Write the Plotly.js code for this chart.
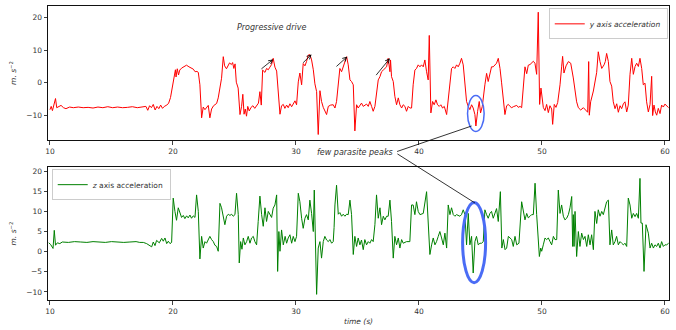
<!DOCTYPE html>
<html>
<head>
<meta charset="utf-8">
<script src="https://cdn.plot.ly/plotly-3.0.1.min.js"></script>
<style>
  html, body { margin: 0; padding: 0; background: #fff; }
  #chart { width: 676px; height: 330px; }
</style>
</head>
<body>
<div id="chart"></div>
<script>
// y axis acceleration (m.s^-2) against time (s)
const yTime = [
  10.0,10.1,10.2,10.3,10.45,10.55,10.7,10.9,11.1,11.3,11.6,11.9,12.3,12.7,13.1,13.5,13.9,14.3,14.7,15.1,
  15.5,15.9,16.3,16.7,17.1,17.5,17.8,17.95,18.1,18.25,18.4,18.55,18.7,18.85,19.0,19.15,19.3,19.5,19.65,19.8,
  19.95,20.1,20.2,20.25,20.35,20.45,20.55,20.7,20.9,21.1,21.3,21.5,21.65,21.8,21.95,22.06,22.19,22.33,22.46,22.6,
  22.73,22.87,23.0,23.14,23.3,23.45,23.55,23.68,23.82,23.95,24.09,24.2,24.35,24.5,24.6,24.75,24.85,24.95,25.05,25.15,
  25.3,25.45,25.58,25.68,25.78,25.88,25.98,26.08,26.2,26.35,26.5,26.65,26.8,26.95,27.07,27.18,27.29,27.48,27.61,27.75,
  27.88,28.02,28.15,28.29,28.43,28.56,28.7,28.83,28.97,29.1,29.24,29.37,29.51,29.65,29.78,29.92,30.05,30.19,30.32,30.46,
  30.59,30.73,30.86,31.0,31.14,31.27,31.41,31.54,31.68,31.81,31.95,32.08,32.22,32.35,32.49,32.63,32.82,33.03,33.17,33.3,
  33.44,33.57,33.71,33.84,33.98,34.12,34.25,34.39,34.52,34.66,34.79,34.93,35.06,35.2,35.33,35.47,35.61,35.74,35.88,36.01,
  36.15,36.28,36.42,36.55,36.69,36.83,36.96,37.1,37.23,37.37,37.5,37.64,37.69,37.77,37.91,38.04,38.18,38.32,38.45,38.59,
  38.72,38.86,38.99,39.13,39.26,39.4,39.53,39.67,39.8,39.94,40.08,40.21,40.35,40.48,40.62,40.75,40.84,40.89,40.97,41.11,
  41.24,41.38,41.51,41.65,41.78,41.92,42.06,42.25,42.38,42.52,42.65,42.79,42.92,43.06,43.19,43.33,43.46,43.6,43.74,43.87,
  44.01,44.14,44.28,44.41,44.55,44.63,44.77,44.9,45.01,45.15,45.36,45.5,45.63,45.77,45.9,46.04,46.17,46.31,46.45,46.59,
  46.72,46.85,46.99,47.13,47.27,47.4,47.54,47.67,47.81,47.95,48.08,48.22,48.35,48.49,48.62,48.76,48.89,49.03,49.16,49.3,
  49.43,49.57,49.7,49.81,49.92,50.03,50.11,50.25,50.38,50.52,50.65,50.79,50.87,51.0,51.14,51.28,51.47,51.6,51.68,51.79,
  51.96,52.15,52.34,52.55,52.69,52.82,52.96,53.15,53.37,53.58,53.72,53.8,53.85,53.96,54.18,54.45,54.58,54.72,54.86,55.05,
  55.15,55.26,55.4,55.53,55.67,55.8,55.94,56.08,56.21,56.35,56.48,56.62,56.75,56.89,57.02,57.16,57.3,57.43,57.57,57.7,
  57.84,57.97,58.11,58.24,58.38,58.51,58.65,58.79,58.92,59.0,59.11,59.22,59.33,59.46,59.6,59.73,59.87,60.0,60.14,60.3
];
const yAccel = [
  -8.2,-7.2,-8.5,-7.0,-4.8,-7.6,-7.2,-6.9,-7.6,-7.9,-7.4,-7.6,-7.4,-7.6,-7.5,-7.7,-7.4,-7.6,-7.3,-7.6,
  -7.4,-7.6,-7.5,-7.3,-7.6,-7.5,-7.2,-8.4,-7.0,-7.6,-6.6,-8.3,-7.2,-7.9,-6.8,-7.8,-7.2,-6.8,-6.2,-4.5,
  -1.5,2.5,4.0,1.8,4.3,2.4,3.9,4.5,4.9,5.4,4.9,4.6,4.2,3.4,3.5,3.2,-0.6,-10.7,-7.4,-8.2,
  -7.6,-6.9,-10.7,-8.0,-7.0,-6.7,-6.3,-4.6,-1.5,1.4,8.0,5.2,4.3,5.2,6.1,5.6,6.2,4.4,5.8,0.2,
  -1.6,-9.7,-7.2,-3.5,-9.6,-8.0,-10.2,-7.2,-8.6,-7.5,-7.0,-7.8,-6.8,-6.2,-2.7,-6.8,3.9,3.2,4.4,4.0,
  4.8,5.6,7.5,4.8,3.6,-2.7,-9.6,-7.0,-6.6,-7.8,-6.8,-7.6,-6.4,-7.3,-6.2,-5.5,-6.7,0.3,3.0,-0.6,
  5.9,5.2,6.5,8.5,8.6,7.0,4.0,-0.3,-2.7,-15.8,-2.4,-5.7,-7.5,-8.7,-9.7,-7.2,-6.8,-6.7,-7.7,-5.7,
  -0.1,4.4,3.4,4.9,6.0,8.0,5.5,0.9,0.4,-0.6,-14.7,-6.7,-7.7,-6.7,-6.2,-7.2,-6.7,-6.5,-7.2,-5.7,
  -7.2,-8.7,-7.2,-2.6,0.9,1.9,3.4,3.9,4.4,4.9,7.5,3.4,7.0,1.9,0.4,-4.1,-6.7,-4.6,-6.7,-7.7,
  -6.7,-7.2,-8.7,-7.2,-7.7,-7.7,-0.6,3.9,4.4,5.5,4.9,5.5,4.9,7.0,3.4,0.9,14.5,0.4,-9.2,-5.7,
  -6.7,-5.2,-6.7,-7.2,-6.7,-7.7,-7.2,-9.7,-5.2,-0.6,4.4,4.9,4.4,5.5,4.9,6.0,7.5,5.5,-0.6,-5.7,
  -7.2,-8.2,-6.7,-7.7,-9.7,-13.2,-8.7,-5.7,-9.2,-7.2,-0.6,2.9,0.4,3.4,4.9,4.9,5.5,6.0,7.5,4.4,
  0.0,-5.5,-9.7,-7.0,-6.6,-7.2,-7.6,-7.3,-7.0,-6.9,-7.5,-7.2,-7.6,-1.5,4.9,2.8,5.4,5.6,6.2,6.6,
  6.0,2.6,21.6,-6.6,-1.6,-6.0,-7.5,-8.5,-6.6,-9.1,-7.0,-8.0,-12.7,-6.6,-7.5,-6.0,-0.6,4.9,8.1,3.0,
  5.2,6.5,6.0,1.5,-2.5,-5.8,-7.6,-8.3,-7.6,-8.5,-9.0,6.5,-9.9,-5.8,-2.5,3.2,9.5,6.5,4.4,5.5,
  6.5,9.0,6.5,0.4,-1.0,-5.8,-7.9,-6.4,-9.0,-7.0,-7.9,-6.4,-5.8,-8.9,-6.8,2.6,7.5,2.6,5.0,6.0,
  5.0,7.5,4.4,-0.6,-0.1,-5.8,-8.9,-6.6,2.0,-10.0,-6.8,-8.9,-9.9,-7.8,-9.4,-6.8,-7.4,-6.5,-7.0,-7.6
];

// z axis acceleration (m.s^-2) against time (s)
const zTime = [
  9.9,10.05,10.25,10.35,10.45,10.6,10.8,11.0,11.5,12.0,12.5,13.0,13.5,14.0,14.5,15.0,15.5,16.0,16.5,17.0,
  17.3,17.59,17.86,18.13,18.27,18.4,18.54,18.67,18.89,19.08,19.21,19.35,19.49,19.62,19.76,19.89,20.02,20.16,20.29,20.43,
  20.57,20.7,20.84,20.97,21.11,21.24,21.38,21.51,21.65,21.79,21.92,22.06,22.19,22.33,22.46,22.6,22.73,22.87,23.0,23.14,
  23.28,23.41,23.55,23.68,23.82,23.95,24.09,24.22,24.36,24.5,24.63,24.77,24.9,25.04,25.17,25.31,25.39,25.5,25.61,25.72,
  25.85,25.99,26.12,26.26,26.39,26.53,26.66,26.8,26.93,27.07,27.21,27.34,27.48,27.61,27.75,27.88,28.02,28.15,28.29,28.43,
  28.51,28.61,28.7,28.83,28.97,29.12,29.24,29.37,29.51,29.65,29.78,29.92,30.05,30.19,30.32,30.46,30.59,30.73,30.86,31.0,
  31.13,31.27,31.41,31.49,31.57,31.68,31.81,31.95,32.08,32.22,32.35,32.49,32.63,32.76,32.9,33.03,33.1,33.17,33.3,33.44,
  33.57,33.71,33.84,33.98,34.12,34.25,34.39,34.52,34.66,34.79,34.93,35.06,35.2,35.33,35.47,35.6,35.74,35.88,36.01,36.15,
  36.28,36.42,36.55,36.69,36.83,36.96,37.1,37.23,37.37,37.5,37.64,37.77,37.91,38.04,38.18,38.32,38.45,38.59,38.72,38.99,
  39.26,39.4,39.53,39.67,39.8,39.94,40.08,40.35,40.62,40.75,40.84,40.89,41.03,41.16,41.3,41.43,41.57,41.7,41.84,41.98,
  42.11,42.25,42.38,42.52,42.65,42.79,42.92,43.06,43.33,43.46,43.6,43.74,43.87,44.01,44.14,44.28,44.41,44.55,44.68,44.82,
  44.96,45.09,45.23,45.36,45.5,45.63,45.77,45.9,46.04,46.17,46.31,46.45,46.52,46.62,46.74,46.86,47.0,47.13,47.27,47.4,
  47.54,47.67,47.81,47.95,48.13,48.35,48.49,48.62,48.76,48.89,49.03,49.16,49.3,49.44,49.57,49.79,49.9,49.98,50.11,50.25,
  50.38,50.52,50.66,50.79,50.93,51.06,51.2,51.33,51.47,51.6,51.74,51.87,52.01,52.15,52.28,52.42,52.5,52.55,52.61,52.69,
  52.82,52.96,53.09,53.23,53.37,53.5,53.64,53.77,53.91,54.04,54.18,54.31,54.45,54.58,54.72,54.86,54.99,55.13,55.26,55.4,
  55.53,55.67,55.8,55.94,56.07,56.21,56.35,56.48,56.62,56.75,56.89,57.02,57.16,57.3,57.43,57.57,57.7,57.84,57.97,58.05,
  58.16,58.3,58.46,58.65,58.79,58.92,59.06,59.19,59.33,59.46,59.6,59.73,59.87,60.0,60.14,60.3
];
const zAccel = [
  2.2,1.8,0.8,5.3,1.6,2.2,2.0,2.4,2.3,2.5,2.4,2.3,2.5,2.4,2.3,2.5,2.4,2.3,2.4,2.5,
  2.3,2.3,2.0,1.6,1.2,2.4,1.5,2.8,2.2,3.3,2.6,3.4,2.0,2.6,2.0,2.3,13.3,10.0,7.8,10.9,
  9.3,8.5,9.0,8.2,8.9,8.4,9.1,8.3,8.9,8.5,14.1,10.0,-1.8,3.8,0.9,2.5,2.1,2.8,3.8,3.0,
  2.5,1.6,1.3,0.1,12.0,10.9,8.8,6.7,8.8,9.3,9.0,9.3,8.8,9.2,14.5,9.2,-2.8,2.5,0.6,3.4,
  1.7,2.5,3.8,2.1,3.4,3.8,2.5,1.7,7.5,13.8,9.2,6.3,10.9,7.5,10.0,9.2,8.5,10.8,11.6,14.1,
  -4.9,5.0,0.1,5.4,1.7,3.8,2.1,3.4,4.2,2.1,3.8,2.5,3.8,14.5,12.4,8.3,5.8,8.3,9.2,7.9,
  12.8,9.5,5.0,15.3,2.5,-10.6,0.9,2.5,-1.6,2.5,3.8,2.9,2.5,3.0,2.1,2.5,6.0,11.6,16.5,9.3,
  9.7,8.8,9.3,8.8,9.3,9.2,12.8,9.2,-0.7,3.8,1.3,3.4,1.7,2.9,0.5,3.0,1.7,2.5,2.1,3.0,
  2.5,6.7,14.1,8.3,10.9,6.7,8.8,7.9,8.8,8.8,12.8,7.5,-1.6,3.8,1.7,3.4,0.9,3.0,2.1,2.5,
  2.5,11.6,11.6,9.2,12.4,10.0,9.2,9.5,14.9,8.3,3.0,-0.7,1.7,3.4,1.7,2.5,3.8,5.0,3.4,1.7,
  4.6,0.9,11.6,9.2,10.9,9.2,8.8,9.2,8.8,9.2,10.4,9.2,1.7,9.5,1.7,3.8,-5.3,2.5,3.8,1.7,
  2.1,2.1,2.5,10.4,9.2,8.3,9.5,10.0,8.3,9.5,10.7,7.5,10.0,14.9,0.9,3.0,0.5,0.9,3.8,3.4,
  3.0,1.3,3.8,1.7,2.1,12.4,10.0,7.9,9.5,8.4,8.8,9.2,9.2,17.0,9.2,-1.2,0.9,0.1,1.7,3.4,
  3.0,3.4,2.5,1.7,3.8,3.0,3.0,15.3,9.5,11.6,8.8,7.9,8.3,9.2,10.9,13.7,1.3,9.2,1.3,10.0,
  -1.2,5.0,1.3,4.6,3.0,3.8,1.3,4.2,1.7,4.2,0.5,10.0,7.0,10.4,8.8,10.0,9.2,10.9,12.4,12.8,
  1.7,5.4,1.7,2.5,3.8,1.7,2.5,2.1,1.7,2.1,1.3,13.3,11.6,8.3,9.5,8.7,9.5,8.3,18.2,7.1,
  7.1,-4.9,6.7,4.6,0.9,2.1,0.9,1.7,1.3,2.1,0.9,2.5,1.3,1.7,1.7,2.1
];

const xTickVals = [10, 20, 30, 40, 50, 60];
const yTickValsTop = [-10, 0, 10, 20];
const yTickValsBottom = [-10, -5, 0, 5, 10, 15, 20];

const FONT = 'DejaVu Sans, sans-serif';
const TICK_FONT = { family: FONT, size: 7.5, color: '#333' };
const NOTE_FONT = { family: FONT, size: 8, color: '#333' };
const ELLIPSE_BLUE = '#4a6cf5';

function axis(extra) {
  return Object.assign({
    showline: true, mirror: true, linecolor: '#111', linewidth: 1,
    ticks: 'outside', ticklen: 3.5, tickwidth: 0.8, tickcolor: '#111',
    showgrid: false, zeroline: false, tickfont: TICK_FONT
  }, extra);
}

const traces = [
  {
    x: yTime, y: yAccel, type: 'scatter', mode: 'lines',
    name: '<i>y axis acceleration</i>',
    line: { color: '#ff0000', width: 1 },
    xaxis: 'x', yaxis: 'y', legend: 'legend'
  },
  {
    x: zTime, y: zAccel, type: 'scatter', mode: 'lines',
    name: '<i>z</i> axis acceleration',
    line: { color: '#008000', width: 1 },
    xaxis: 'x2', yaxis: 'y2', legend: 'legend2'
  }
];

// Arrows marking the progressive drive: [tail x, tail y, head x, head y]
const driveArrows = [
  [27.07, 3.9, 28.15, 7.2],
  [30.46, 5.7, 31.27, 8.7],
  [33.17, 4.6, 34.17, 8.0],
  [36.42, 1.9, 37.64, 7.5]
];

const annotations = driveArrows.map(a => ({
  xref: 'x', yref: 'y', axref: 'x', ayref: 'y',
  x: a[2], y: a[3], ax: a[0], ay: a[1], text: '',
  showarrow: true, arrowhead: 5, arrowsize: 1, arrowwidth: 0.8, arrowcolor: '#000'
}));

annotations.push({
  xref: 'x', yref: 'y', x: 28.0, y: 17, text: '<i>Progressive drive</i>',
  showarrow: false, font: NOTE_FONT
});

annotations.push({
  xref: 'x', yref: 'paper', x: 34.8, y: 0.503, text: '<i>few parasite peaks</i>',
  showarrow: false, font: NOTE_FONT
});

// connector lines from the label to the two highlighted regions
annotations.push({
  xref: 'x', yref: 'y', x: 44.28, y: -13.2, ax: -76, ay: 26, text: '',
  showarrow: true, arrowhead: 0, arrowwidth: 0.8, arrowcolor: '#000'
});
annotations.push({
  xref: 'x2', yref: 'y2', x: 44.55, y: 12.1, ax: -79, ay: -50, text: '',
  showarrow: true, arrowhead: 0, arrowwidth: 0.8, arrowcolor: '#000'
});

const shapes = [
  { type: 'circle', xref: 'x', yref: 'y', x0: 43.95, x1: 45.3, y0: -14.9, y1: -3.9,
    line: { color: ELLIPSE_BLUE, width: 1.5 } },
  { type: 'circle', xref: 'x2', yref: 'y2', x0: 43.55, x1: 45.42, y0: -7.7, y1: 12.2,
    line: { color: ELLIPSE_BLUE, width: 3 } }
];

const yTitle = '<i>m.</i> <i>s</i><sup>−2</sup>';

const layout = {
  width: 676, height: 330,
  margin: { l: 48, r: 7, t: 6, b: 30 },
  paper_bgcolor: '#fff', plot_bgcolor: '#fff',
  font: { family: FONT, size: 7.5, color: '#333' },
  xaxis: axis({ domain: [0, 1], range: [9.84, 60.33], tickvals: xTickVals, anchor: 'y' }),
  yaxis: axis({ domain: [0.544, 1], range: [-17.5, 23.5], tickvals: yTickValsTop, anchor: 'x',
    title: { text: yTitle, font: { family: FONT, size: 7.5, color: '#333' }, standoff: 8 } }),
  xaxis2: axis({ domain: [0, 1], range: [9.84, 60.33], tickvals: xTickVals, anchor: 'y2',
    title: { text: '<i>time (s)</i>', font: { family: FONT, size: 7.5, color: '#333' }, standoff: 4 } }),
  yaxis2: axis({ domain: [0, 0.452], range: [-12, 21], tickvals: yTickValsBottom, anchor: 'x2',
    title: { text: yTitle, font: { family: FONT, size: 7.5, color: '#333' }, standoff: 8 } }),
  legend: {
    x: 0.998, y: 0.992, xanchor: 'right', yanchor: 'top',
    bgcolor: 'rgba(255,255,255,0.85)', bordercolor: '#cccccc', borderwidth: 1,
    font: { family: FONT, size: 7.5, color: '#333' }, itemwidth: 30, tracegroupgap: 0
  },
  legend2: {
    x: 0.006, y: 0.445, xanchor: 'left', yanchor: 'top',
    bgcolor: 'rgba(255,255,255,0.85)', bordercolor: '#cccccc', borderwidth: 1,
    font: { family: FONT, size: 7.5, color: '#333' }, itemwidth: 30, tracegroupgap: 0
  },
  showlegend: true,
  annotations: annotations,
  shapes: shapes
};

Plotly.newPlot('chart', traces, layout, { displayModeBar: false, staticPlot: true });
</script>
</body>
</html>
